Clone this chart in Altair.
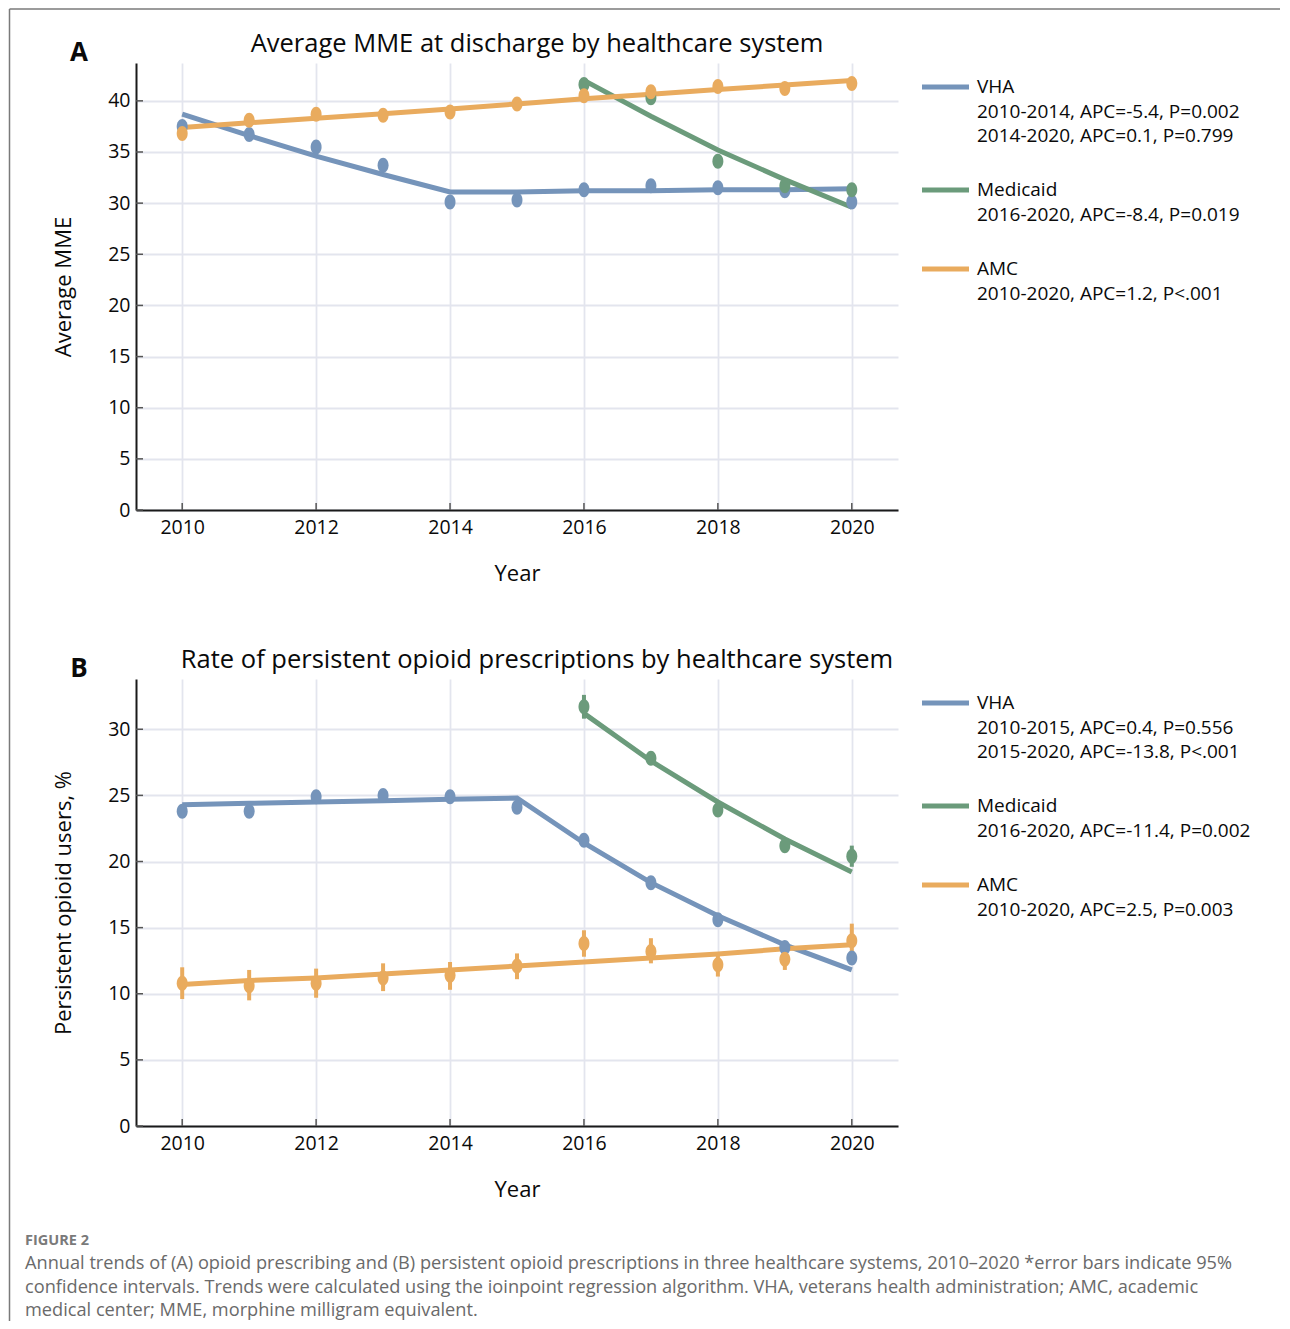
import altair as alt
import pandas as pd

# ---------------- data ----------------
years = list(range(2010, 2021))
med_years = list(range(2016, 2021))
systems = ["VHA", "Medicaid", "AMC"]
colors = ["#7594BA", "#6B9B7B", "#E9AB5E"]

# Panel A: average MME at discharge
a_vha = [37.5, 36.7, 35.5, 33.7, 30.1, 30.3, 31.3, 31.7, 31.5, 31.2, 30.1]
a_vha_fit = [38.7, 36.6, 34.6, 32.8, 31.1, 31.1, 31.2, 31.2, 31.3, 31.3, 31.4]
a_med = [41.6, 40.3, 34.1, 31.7, 31.3]
a_med_fit = [42.0, 38.5, 35.2, 32.3, 29.6]
a_amc = [36.8, 38.1, 38.7, 38.6, 38.9, 39.7, 40.5, 40.9, 41.4, 41.2, 41.7]
a_amc_fit = [37.4, 37.85, 38.3, 38.75, 39.2, 39.7, 40.2, 40.65, 41.1, 41.55, 42.0]

# Panel B: persistent opioid users, %
b_vha = [23.8, 23.8, 24.9, 25.0, 24.9, 24.1, 21.6, 18.4, 15.6, 13.5, 12.7]
b_vha_fit = [24.3, 24.4, 24.5, 24.6, 24.7, 24.8, 21.4, 18.4, 15.9, 13.7, 11.8]
b_med = [31.7, 27.8, 23.9, 21.2, 20.4]
b_med_lo = [30.8, 27.3, 23.4, 20.8, 19.6]
b_med_hi = [32.6, 28.3, 24.4, 21.6, 21.2]
b_med_fit = [31.2, 27.6, 24.5, 21.7, 19.2]
b_amc = [10.8, 10.6, 10.8, 11.2, 11.4, 12.1, 13.8, 13.2, 12.2, 12.6, 14.0]
b_amc_lo = [9.6, 9.5, 9.7, 10.2, 10.3, 11.1, 12.8, 12.3, 11.3, 11.8, 12.7]
b_amc_hi = [12.0, 11.8, 11.9, 12.3, 12.4, 13.05, 14.8, 14.2, 13.0, 13.4, 15.3]
b_amc_fit = [10.7, 11.0, 11.2, 11.5, 11.8, 12.1, 12.4, 12.7, 13.0, 13.4, 13.7]

x_ticks = [2010, 2012, 2014, 2016, 2018, 2020]
a_y_ticks = [0, 5, 10, 15, 20, 25, 30, 35, 40]
b_y_ticks = [0, 5, 10, 15, 20, 25, 30]

a_title = "Average MME at discharge by healthcare system"
b_title = "Rate of persistent opioid prescriptions by healthcare system"
a_ytitle = "Average MME"
b_ytitle = "Persistent opioid users, %"
a_legend = [
    ("VHA", ["2010-2014, APC=-5.4, P=0.002", "2014-2020, APC=0.1, P=0.799"]),
    ("Medicaid", ["2016-2020, APC=-8.4, P=0.019"]),
    ("AMC", ["2010-2020, APC=1.2, P<.001"]),
]
b_legend = [
    ("VHA", ["2010-2015, APC=0.4, P=0.556", "2015-2020, APC=-13.8, P<.001"]),
    ("Medicaid", ["2016-2020, APC=-11.4, P=0.002"]),
    ("AMC", ["2010-2020, APC=2.5, P=0.003"]),
]
fig_label = "FIGURE 2"
caption_lines = [
    "Annual trends of (A) opioid prescribing and (B) persistent opioid prescriptions in three healthcare systems, 2010\u20132020 *error bars indicate 95%",
    "confidence intervals. Trends were calculated using the ioinpoint regression algorithm. VHA, veterans health administration; AMC, academic",
    "medical center; MME, morphine milligram equivalent.",
]

# ---------------- style ----------------
FONT = "Open Sans"
W, H = 762, 447
XDOM = [2009.31, 2020.69]
ELLIPSE = "M0,-1A0.73,1,0,1,1,0,1A0.73,1,0,1,1,0,-1Z"
INK = "#0a0a0a"
LEG_SIZE = 19


def frame(system, yrs, vals, lo=None, hi=None):
    d = {"year": yrs, "value": vals, "system": [system] * len(yrs)}
    if lo is not None:
        d["lo"] = lo
        d["hi"] = hi
    return pd.DataFrame(d)


def txt(s, x, y, size, weight="normal", color=INK, align="left", baseline="middle"):
    return alt.Chart(pd.DataFrame({"s": [s]})).mark_text(
        align=align, baseline=baseline, fontSize=size, fontWeight=weight,
        font=FONT, color=color
    ).encode(text="s:N", x=alt.value(x), y=alt.value(y))


def panel(series, ymax, yticks, ytitle, title, letter, legend, extra):
    xs = alt.Scale(domain=XDOM, nice=False, zero=False)
    ys = alt.Scale(domain=[0, ymax], nice=False)
    xaxis = alt.Axis(values=x_ticks, format="d", title="Year", ticks=False, tickSize=0,
                     labelFontSize=19.5, labelColor=INK, labelFont=FONT, labelPadding=8,
                     domainColor="#1a1a1a", domainWidth=2, gridColor="#e3e5ee", gridWidth=1.8,
                     titleFont=FONT, titleFontSize=22, titleFontWeight="normal", titleColor=INK,
                     titleX=W / 2, titleY=63, titleBaseline="middle", titleAlign="center")
    yaxis = alt.Axis(values=yticks, title=ytitle, ticks=False, tickSize=0,
                     labelFontSize=19.5, labelColor=INK, labelFont=FONT, labelPadding=6,
                     domainColor="#1a1a1a", domainWidth=2, gridColor="#e3e5ee", gridWidth=1.8,
                     titleFont=FONT, titleFontSize=22, titleFontWeight="normal", titleColor=INK,
                     titleX=-73, titleY=H / 2, titleAngle=270, titleBaseline="middle",
                     titleAlign="center")

    def X():
        return alt.X("year:Q", scale=xs, axis=xaxis)

    def Y(f="value"):
        return alt.Y(f + ":Q", scale=ys, axis=yaxis)

    layers = []
    # inner tick marks
    layers.append(alt.Chart(pd.DataFrame({"year": x_ticks})).mark_rule(
        color="#555555", strokeWidth=1.5).encode(x=X(), y=alt.value(H), y2=alt.value(H - 7)))
    layers.append(alt.Chart(pd.DataFrame({"value": yticks})).mark_rule(
        color="#555555", strokeWidth=1.5).encode(y=Y(), x=alt.value(0), x2=alt.value(7)))
    # fit lines
    for s, c in zip(systems, colors):
        layers.append(alt.Chart(series[s]["fit"]).mark_line(color=c, strokeWidth=5).encode(x=X(), y=Y()))
    # error bars
    for s, c in zip(systems, colors):
        df = series[s]["pts"]
        if "lo" in df.columns:
            layers.append(alt.Chart(df).mark_rule(color=c, strokeWidth=4).encode(
                x=X(), y=Y("lo"), y2="hi:Q"))
    # points
    for s, c in zip(systems, colors):
        layers.append(alt.Chart(series[s]["pts"]).mark_point(
            shape=ELLIPSE, filled=True, size=225, opacity=1, color=c).encode(x=X(), y=Y()))
    # titles
    layers.append(txt(title, 401, -19, 25.5, align="center"))
    layers.append(txt(letter, -57, -10, 26, weight="bold", align="center"))
    # legend
    ypos = [24, 127, 206]
    for (name, lines), c, y0 in zip(legend, colors, ypos):
        layers.append(alt.Chart(pd.DataFrame({"s": [name]})).mark_rule(color=c, strokeWidth=5).encode(
            x=alt.value(786), x2=alt.value(833), y=alt.value(y0)))
        layers.append(txt(name, 841, y0, LEG_SIZE))
        for i, ln in enumerate(lines):
            layers.append(txt(ln, 841, y0 + 24.5 * (i + 1), LEG_SIZE))
    layers.extend(extra)
    return alt.layer(*layers).properties(width=W, height=H)


series_a = {
    "VHA": {"pts": frame("VHA", years, a_vha), "fit": frame("VHA", years, a_vha_fit)},
    "Medicaid": {"pts": frame("Medicaid", med_years, a_med), "fit": frame("Medicaid", med_years, a_med_fit)},
    "AMC": {"pts": frame("AMC", years, a_amc), "fit": frame("AMC", years, a_amc_fit)},
}
series_b = {
    "VHA": {"pts": frame("VHA", years, b_vha), "fit": frame("VHA", years, b_vha_fit)},
    "Medicaid": {"pts": frame("Medicaid", med_years, b_med, b_med_lo, b_med_hi),
                 "fit": frame("Medicaid", med_years, b_med_fit)},
    "AMC": {"pts": frame("AMC", years, b_amc, b_amc_lo, b_amc_hi), "fit": frame("AMC", years, b_amc_fit)},
}

dummy = pd.DataFrame({"s": [0]})
border = [
    alt.Chart(dummy).mark_rule(color="#7a7a7a", strokeWidth=1.5).encode(
        x=alt.value(-126.5), x2=alt.value(1144), y=alt.value(-54)),
    alt.Chart(dummy).mark_rule(color="#7a7a7a", strokeWidth=1.5).encode(
        x=alt.value(-126.5), y=alt.value(-54), y2=alt.value(1258)),
]

caption = [txt(fig_label, -111, 562, 14.5, weight="bold", color="#7a7a7a")]
for i, ln in enumerate(caption_lines):
    caption.append(txt(ln, -111, 585 + 23.5 * i, 18.2, color="#6a6a6a"))

panel_a = panel(series_a, 43.7, a_y_ticks, a_ytitle, a_title, "A", a_legend, border)
panel_b = panel(series_b, 33.8, b_y_ticks, b_ytitle, b_title, "B", b_legend, caption)

chart = alt.vconcat(panel_a, panel_b, spacing=169, bounds="flush").properties(
    padding=0
).configure_view(strokeWidth=0)

chart.save("out.html", embed_options={"renderer": "svg", "actions": False})
